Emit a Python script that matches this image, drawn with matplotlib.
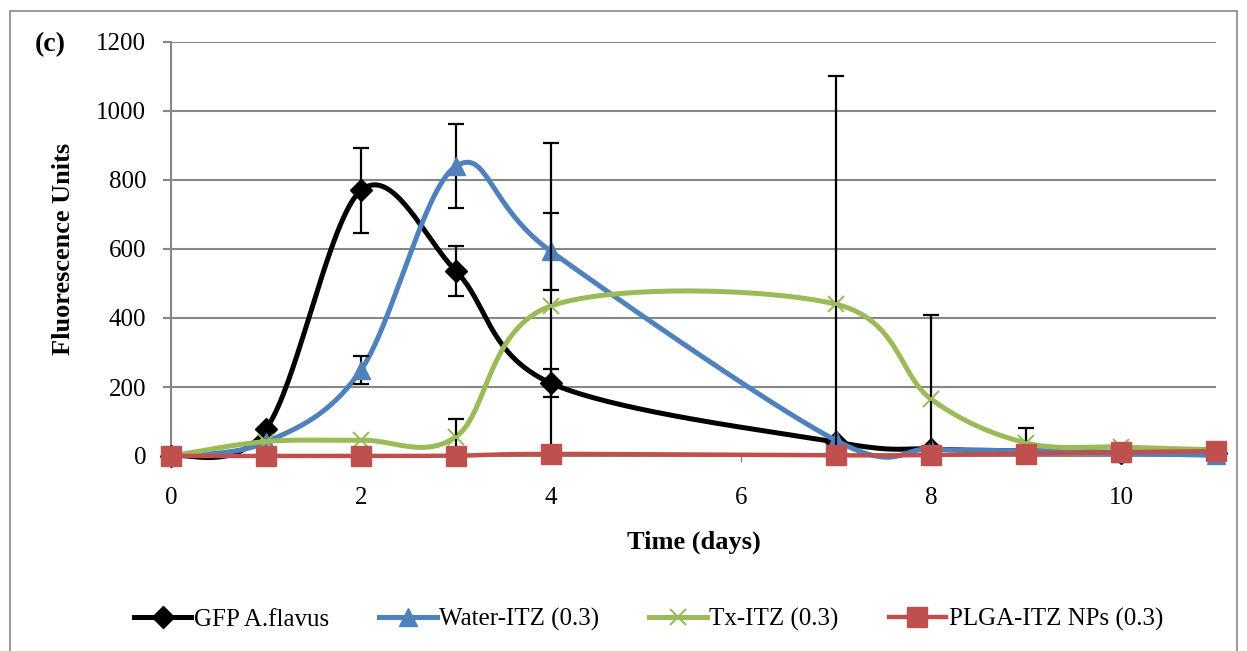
import numpy as np
import matplotlib
matplotlib.use("Agg")
import matplotlib.pyplot as plt
from matplotlib.patches import Rectangle

# data
days = [0, 1, 2, 3, 4, 7, 8, 9, 10, 11]
gfp = [0, 78, 770, 536, 211, 40, 20, 15, 10, 8]
water = [0, 40, 249, 840, 593, 45, 20, 15, 8, 2]
tx = [0, 42, 46, 56, 435, 440, 165, 38, 26, 18]
plga = [0, 0, 0, 1, 6, 2, 3, 7, 11, 14]

gfp_err = [0, 0, 124, 72, 40, 0, 0, 0, 0, 0]
water_err = [0, 0, 41, 121, 112, 0, 0, 0, 0, 0]
tx_err = [0, 0, 0, 50, 472, 660, 243, 43, 0, 0]
plga_err = [0] * 10

labels = ["GFP A.flavus", "Water-ITZ (0.3)", "Tx-ITZ (0.3)", "PLGA-ITZ NPs (0.3)"]
colors = ["black", "#4F81BD", "#9BBB59", "#C0504D"]


def smooth(x, y, n=40):
    # excel style smoothed line (bezier through points, catmull-rom handles)
    p = np.column_stack([x, y]).astype(float)
    pts = np.vstack([p[0], p, p[-1]])
    out = []
    t = np.linspace(0, 1, n)[:, None]
    for i in range(1, len(pts) - 2):
        p0, p1 = pts[i], pts[i + 1]
        c1 = p0 + (pts[i + 1] - pts[i - 1]) / 6
        c2 = p1 - (pts[i + 2] - pts[i]) / 6
        seg = (1 - t) ** 3 * p0 + 3 * (1 - t) ** 2 * t * c1 + 3 * (1 - t) * t ** 2 * c2 + t ** 3 * p1
        out.append(seg if i == 1 else seg[1:])
    s = np.vstack(out)
    return s[:, 0], s[:, 1]


plt.rcParams['font.family'] = ['Liberation Serif', 'DejaVu Serif']

fig = plt.figure(figsize=(12.47, 6.51), dpi=100)
ax = fig.add_axes([171 / 1247, 1 - 456 / 651, (1216 - 171) / 1247, (456 - 42) / 651])

series = [
    (gfp, gfp_err, "D", 11, 3.6),
    (water, water_err, "^", 13, 3.6),
    (tx, tx_err, "x", 12, 3.6),
    (plga, plga_err, "s", 14, 3.2),
]

handles = []
for k, (vals, err, mk, ms, lw) in enumerate(series):
    c = colors[k]
    sx, sy = smooth(days, vals)
    ax.plot(sx, sy, color=c, lw=lw, clip_on=False, zorder=3 + k, solid_capstyle='round')
    ex = [d for d, e in zip(days, err) if e > 0]
    ey = [v for v, e in zip(vals, err) if e > 0]
    ee = [e for e in err if e > 0]
    if ee:
        ax.errorbar(ex, ey, yerr=ee, fmt="none", ecolor="black", elinewidth=1.6,
                    capsize=6, capthick=1.6, zorder=3 + k)
    mew = 1.5 if mk == "x" else 1
    ax.plot(days, vals, ls="none", marker=mk, ms=ms, color=c, mec=c, mew=mew,
            clip_on=False, zorder=3 + k)
    h, = ax.plot([], [], color=c, lw=lw, marker=mk, ms=ms, mec=c, mew=mew)
    handles.append(h)

ax.set_xlim(0, 11)
ax.set_ylim(0, 1200)
ax.set_xticks([0, 2, 4, 6, 8, 10])
ax.set_yticks(np.arange(0, 1201, 200))
ax.yaxis.grid(True, color="#878787", lw=1.5)
ax.set_axisbelow(True)
for s in ["top", "right"]:
    ax.spines[s].set_visible(False)
for s in ["left", "bottom"]:
    ax.spines[s].set_color("#878787")
    ax.spines[s].set_linewidth(1.5)
ax.tick_params(axis="y", length=6, width=1.5, color="#878787", labelsize=18, pad=12)
ax.tick_params(axis="x", length=4, width=1, color="#878787", labelsize=18, pad=18)

ax.set_xlabel("Time (days)", fontsize=19, fontweight="bold", labelpad=16)
ax.set_ylabel("Fluorescence Units", fontsize=19, fontweight="bold", labelpad=15)
fig.text(50 / 1247, 1 - 45 / 651, "(c)", fontsize=20, fontweight="bold", ha="center", va="center")

fig.legend(handles, labels, loc="center", bbox_to_anchor=(0.52, 0.048), ncol=4, frameon=False,
           fontsize=18, handlelength=2.3, handletextpad=0.1, columnspacing=2.0)

fig.add_artist(Rectangle((10 / 1247, -0.05), (1237 - 10) / 1247, 1.05 - 11 / 651,
                         transform=fig.transFigure, fill=False, ec="#878787", lw=1.2))

fig.savefig("out.png", dpi=100)
